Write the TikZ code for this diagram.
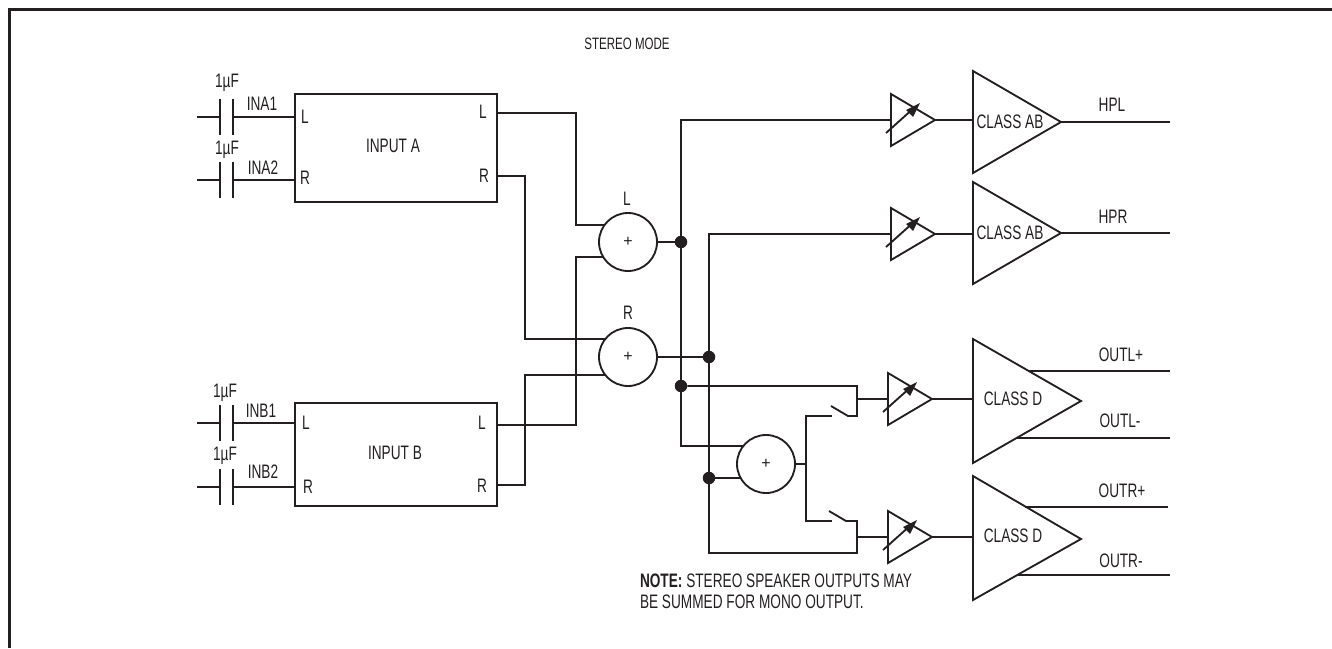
\documentclass[tikz,border=0pt]{standalone}
\usepackage{fontspec}
\setmainfont[FakeStretch=0.7]{Liberation Sans}
\newfontfamily\plusfont{Liberation Sans}
\definecolor{ink}{HTML}{231F20}
\tikzset{
  wire/.style={draw=ink,line width=1.85pt,line cap=butt,line join=miter},
  frameline/.style={draw=ink,line width=2.7pt},
  lab/.style={text=ink,inner sep=0pt,outer sep=0pt,font=\fontsize{19.5}{21}\selectfont},
  smalllab/.style={lab,font=\fontsize{16.5}{18}\selectfont},
  block/.style={wire,rectangle,fill=white,inner sep=0pt,outer sep=0pt},
  summer/.style={wire,circle,fill=white,minimum size=58pt,inner sep=0pt,outer sep=0pt,text=ink,font=\plusfont\fontsize{16}{16}\selectfont},
  junction/.style={circle,fill=ink,minimum size=12.5pt,inner sep=0pt,outer sep=0pt}
}
\newcommand{\capacitor}[2]{% name, y
  \coordinate (#1free) at (197,#2);
  \coordinate (#1a) at (220,#2);
  \coordinate (#1b) at (233,#2);
  \coordinate (#1pin) at (295,#2);
  \draw[wire] (#1free) -- (#1a);
  \draw[wire] (#1b) -- (#1pin);
  \draw[wire] ([yshift=18pt]#1a) -- ([yshift=-18pt]#1a);
  \draw[wire] ([yshift=18pt]#1b) -- ([yshift=-18pt]#1b);
}
\newcommand{\vamp}[3]{% name, x, y
  \begin{scope}[shift={(#2,#3)}]
    \coordinate (#1in) at (0,0);
    \coordinate (#1out) at (44,0);
    \draw[wire] (0,-26) -- (0,26) -- (#1out) -- cycle;
    \draw[wire] (-5,13) -- (24,-13);
    \fill[ink] (29,-17) -- (15,-10) -- (22,-3) -- cycle;
  \end{scope}
}
\begin{document}
\begin{tikzpicture}[x=1pt,y=-1pt]
\useasboundingbox (0,0) rectangle (1332,648);
\draw[frameline] (1332,9.5) -- (9.5,9.5) -- (9.5,648);

\node[smalllab] (title) at (627,44) {STEREO MODE};

% port coordinates
\coordinate (aL) at (497,113);
\coordinate (aR) at (497,176);
\coordinate (bL) at (497,425);
\coordinate (bR) at (497,485);
\coordinate (sLa) at (606,225);
\coordinate (sLb) at (604,257);
\coordinate (sRa) at (606,339);
\coordinate (sRb) at (606,375);
\coordinate (sMa) at (744,446);
\coordinate (sMb) at (741,478);
\coordinate (busL) at (681,120);
\coordinate (busLb) at (681,446);
\coordinate (busR) at (709,234);
\coordinate (busRb) at (709,553);
\coordinate (swUa) at (832,416);
\coordinate (swUb) at (806,416);
\coordinate (swLa) at (832,521);
\coordinate (swLb) at (806,521);
\coordinate (upA) at (831,406);
\coordinate (upB) at (848,416);
\coordinate (upC) at (857,416);
\coordinate (upD) at (857,386);
\coordinate (loA) at (829,511);
\coordinate (loB) at (846,521);
\coordinate (loC) at (857,521);
\coordinate (loD) at (857,553);

% capacitors
\capacitor{ca}{117}
\capacitor{cb}{180}
\capacitor{cc}{423}
\capacitor{cd}{487}

% amplifiers
\vamp{va}{891}{120}
\vamp{vb}{891}{234}
\vamp{vc}{888}{399}
\vamp{vd}{888}{537}

% wiring
\draw[wire] (aL) -| (576,225) -- (sLa);
\draw[wire] (aR) -| (525,339) -- (sRa);
\draw[wire] (bL) -| (576,257) -- (sLb);
\draw[wire] (bR) -| (525,375) -- (sRb);
\draw[wire] (vain) -- (busL) -- (busLb) -- (sMa);
\draw[wire] (vbin) -- (busR) -- (busRb) -- (loD) -- (loC) -- (loB) -- (loA);
\draw[wire] (swUa) -- (swUb) -- (swLb) -- (swLa);
\draw[wire] (vcin) -- (upD |- vcin);
\draw[wire] (vdin) -- (loC |- vdin);

% summers and junctions
\node[summer] (sumL) at (628,242) {+};
\node[summer] (sumR) at (628,357) {+};
\node[summer] (sumM) at (766,464) {+};
\node[junction] (ja) at (681,242) {};
\node[junction] (jb) at (709,357) {};
\node[junction] (jc) at (681,386) {};
\node[junction] (jd) at (709,478) {};
\draw[wire] (sumL.east) -- (ja);
\draw[wire] (sumR.east) -- (jb);
\draw[wire] (sumM.east) -- (swUb |- sumM.east);
\draw[wire] (jd) -- (sMb);
\draw[wire] (jc) -- (upD) -- (upC) -- (upB) -- (upA);
\node[block,minimum width=202pt,minimum height=108pt] (inA) at (396,148) {};
\node[block,minimum width=202pt,minimum height=103pt] (inB) at (396,454.5) {};

% class amplifiers
\draw[wire] (973,71) -- (973,173) -- (1061,122) -- cycle;
\draw[wire] (973,182) -- (973,284) -- (1061,233) -- cycle;
\draw[wire] (973,339) -- (973,463) -- (1081,401) -- cycle;
\draw[wire] (973,476) -- (973,600) -- (1081,539) -- cycle;
\draw[wire] (vaout) -- (973,120);
\draw[wire] (vbout) -- (973,234);
\draw[wire] (vcout) -- (973,399);
\draw[wire] (vdout) -- (973,537);
\coordinate (hpl) at (1170,122);
\coordinate (hpr) at (1170,233);
\coordinate (olp) at (1170,371);
\coordinate (olm) at (1170,438);
\coordinate (orp) at (1168,507);
\coordinate (orm) at (1170,575);
\draw[wire] (1061,122) -- (hpl);
\draw[wire] (1061,233) -- (hpr);
\draw[wire] (1028,371) -- (olp);
\draw[wire] (1017,438) -- (olm);
\draw[wire] (1025,507) -- (orp);
\draw[wire] (1017,575) -- (orm);

% labels
\node[lab] (t1) at (227,83) {1µF};
\node[lab] (t2) at (227,150) {1µF};
\node[lab] (t3) at (225,393) {1µF};
\node[lab] (t4) at (225,456) {1µF};
\node[lab] (t5) at (262,104) {INA1};
\node[lab] (t6) at (263,168) {INA2};
\node[lab] (t7) at (261,411) {INB1};
\node[lab] (t8) at (263,472) {INB2};
\node[lab] (t9) at (305,117) {L};
\node[lab] (t10) at (305,178) {R};
\node[lab] (t11) at (483,112) {L};
\node[lab] (t12) at (484,176) {R};
\node[lab] (t13) at (306,423) {L};
\node[lab] (t14) at (308,487) {R};
\node[lab] (t15) at (482,423) {L};
\node[lab] (t16) at (482,486) {R};
\node[lab] (t17) at (393,146) {INPUT A};
\node[lab] (t18) at (395,453) {INPUT B};
\node[lab] (t19) at (627,199) {L};
\node[lab] (t20) at (628,313) {R};
\node[lab] (t21) at (1010,122) {CLASS AB};
\node[lab] (t22) at (1010,233) {CLASS AB};
\node[lab] (t23) at (1013,399) {CLASS D};
\node[lab] (t24) at (1013,536) {CLASS D};
\node[lab] (t25) at (1112,105) {HPL};
\node[lab] (t26) at (1113,217) {HPR};
\node[lab] (t27) at (1121,355) {OUTL+};
\node[lab] (t28) at (1120,421) {OUTL-};
\node[lab] (t29) at (1122,491) {OUTR+};
\node[lab] (t30) at (1121,561) {OUTR-};
\node[lab,anchor=west,align=left] (note) at (640,591.5) {\textbf{NOTE:} STEREO SPEAKER OUTPUTS MAY\\BE SUMMED FOR MONO OUTPUT.};
\end{tikzpicture}
\end{document}
